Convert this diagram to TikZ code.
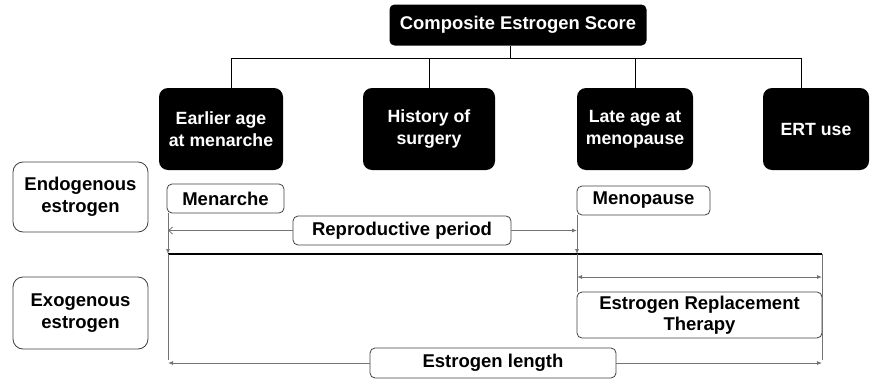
\documentclass[tikz,border=0pt]{standalone}
\usepackage{fontspec}
\setmainfont{Liberation Sans}
\usetikzlibrary{arrows.meta}
\begin{document}
\begin{tikzpicture}[x=1pt,y=-1pt,
		blackbox/.style={fill=black,rounded corners=9pt,text=white,font=\bfseries\fontsize{17.7}{21.5}\selectfont,align=center,inner sep=0pt},
		sidebox/.style={draw=black!75,line width=0.8pt,rounded corners=10pt,font=\bfseries\fontsize{18.5}{22}\selectfont,align=center,inner sep=0pt},
		tagbox/.style={draw=black!75,line width=0.8pt,rounded corners=5pt,font=\bfseries\fontsize{18.5}{20}\selectfont,align=center,inner sep=0pt},
		conn/.style={draw=black!55,line width=0.8pt},
		tip/.style={conn,-{Latex[length=5pt,width=4pt]}}]
	\useasboundingbox (0,0) rectangle (870,380);
	% score and its parts
	\node[blackbox,rounded corners=5pt,minimum width=257pt,minimum height=41pt,font=\bfseries\fontsize{18.4}{22}\selectfont] (score) at (518,25) {Composite Estrogen Score};
	\node[blackbox,minimum width=124pt,minimum height=82pt] (menar) at (221,129) {Earlier age\\at menarche};
	\node[blackbox,minimum width=132pt,minimum height=82pt] (surg) at (429,129) {History of\\surgery};
	\node[blackbox,minimum width=116pt,minimum height=82pt] (menop) at (635,129) {Late age at\\menopause};
	\node[blackbox,minimum width=106pt,minimum height=82pt] (ert) at (816,129) {ERT use};
	\coordinate (bus) at (0,58);
	\draw[line width=0.9pt] ([xshift=-8pt]score.south) -- ([xshift=-8pt]score.south |- bus);
	\draw[line width=0.9pt] ([xshift=10pt]menar.north) |- (bus -| surg.north) -- (surg.north);
	\draw[line width=0.9pt] (surg.north |- bus) -| (menop.north);
	\draw[line width=0.9pt] (menop.north |- bus) -| ([xshift=-15pt]ert.north);
	% side labels
	\node[sidebox,minimum width=135pt,minimum height=70pt] (endo) at (80.5,197) {Endogenous\\estrogen};
	\node[sidebox,minimum width=135pt,minimum height=72pt] (exo) at (80.5,313) {Exogenous\\estrogen};
	% time line
	\node[tagbox,minimum width=117pt,minimum height=29pt] (menarche) at (225.5,198.5) {Menarche};
	\node[tagbox,minimum width=133pt,minimum height=29pt] (menopause) at (643.5,200.5) {Menopause};
	\node[tagbox,minimum width=218pt,minimum height=29pt] (repro) at (402,230.5) {Reproductive period};
	\node[tagbox,minimum width=245pt,minimum height=46pt,font=\bfseries\fontsize{18.5}{21}\selectfont] (therapy) at (699.5,315) {Estrogen Replacement\\Therapy};
	\node[tagbox,minimum width=246pt,minimum height=30pt] (length) at (493,363) {Estrogen length};
	\coordinate (t1) at (168,254);
	\coordinate (t2) at (577,254);
	\coordinate (t3) at (822,254);
	\coordinate (e1) at (168,360);
	\coordinate (e3) at (822,360);
	\draw[line width=2.6pt] (t1) -- (t3);
	\draw[tip] (t1 |- menarche.south) -- (t1);
	\draw[conn] (t1) -- (e1);
	\draw[tip] (t2 |- menopause.south) -- (t2);
	\draw[conn] (t2) -- (t2 |- therapy.north);
	\draw[conn] (t3) -- (e3);
	\draw[conn,-{Straight Barb[length=4pt,width=7pt]}] (repro.west) -- (repro.west -| t1);
	\draw[tip] (repro.east) -- (repro.east -| t2);
	\draw[conn,{Latex[length=5pt,width=4pt]}-{Latex[length=5pt,width=4pt]}] (577,277) -- (822,277);
	\draw[tip] (length.west) -- (length.west -| e1);
	\draw[tip] (length.east) -- (length.east -| e3);
\end{tikzpicture}
\end{document}
